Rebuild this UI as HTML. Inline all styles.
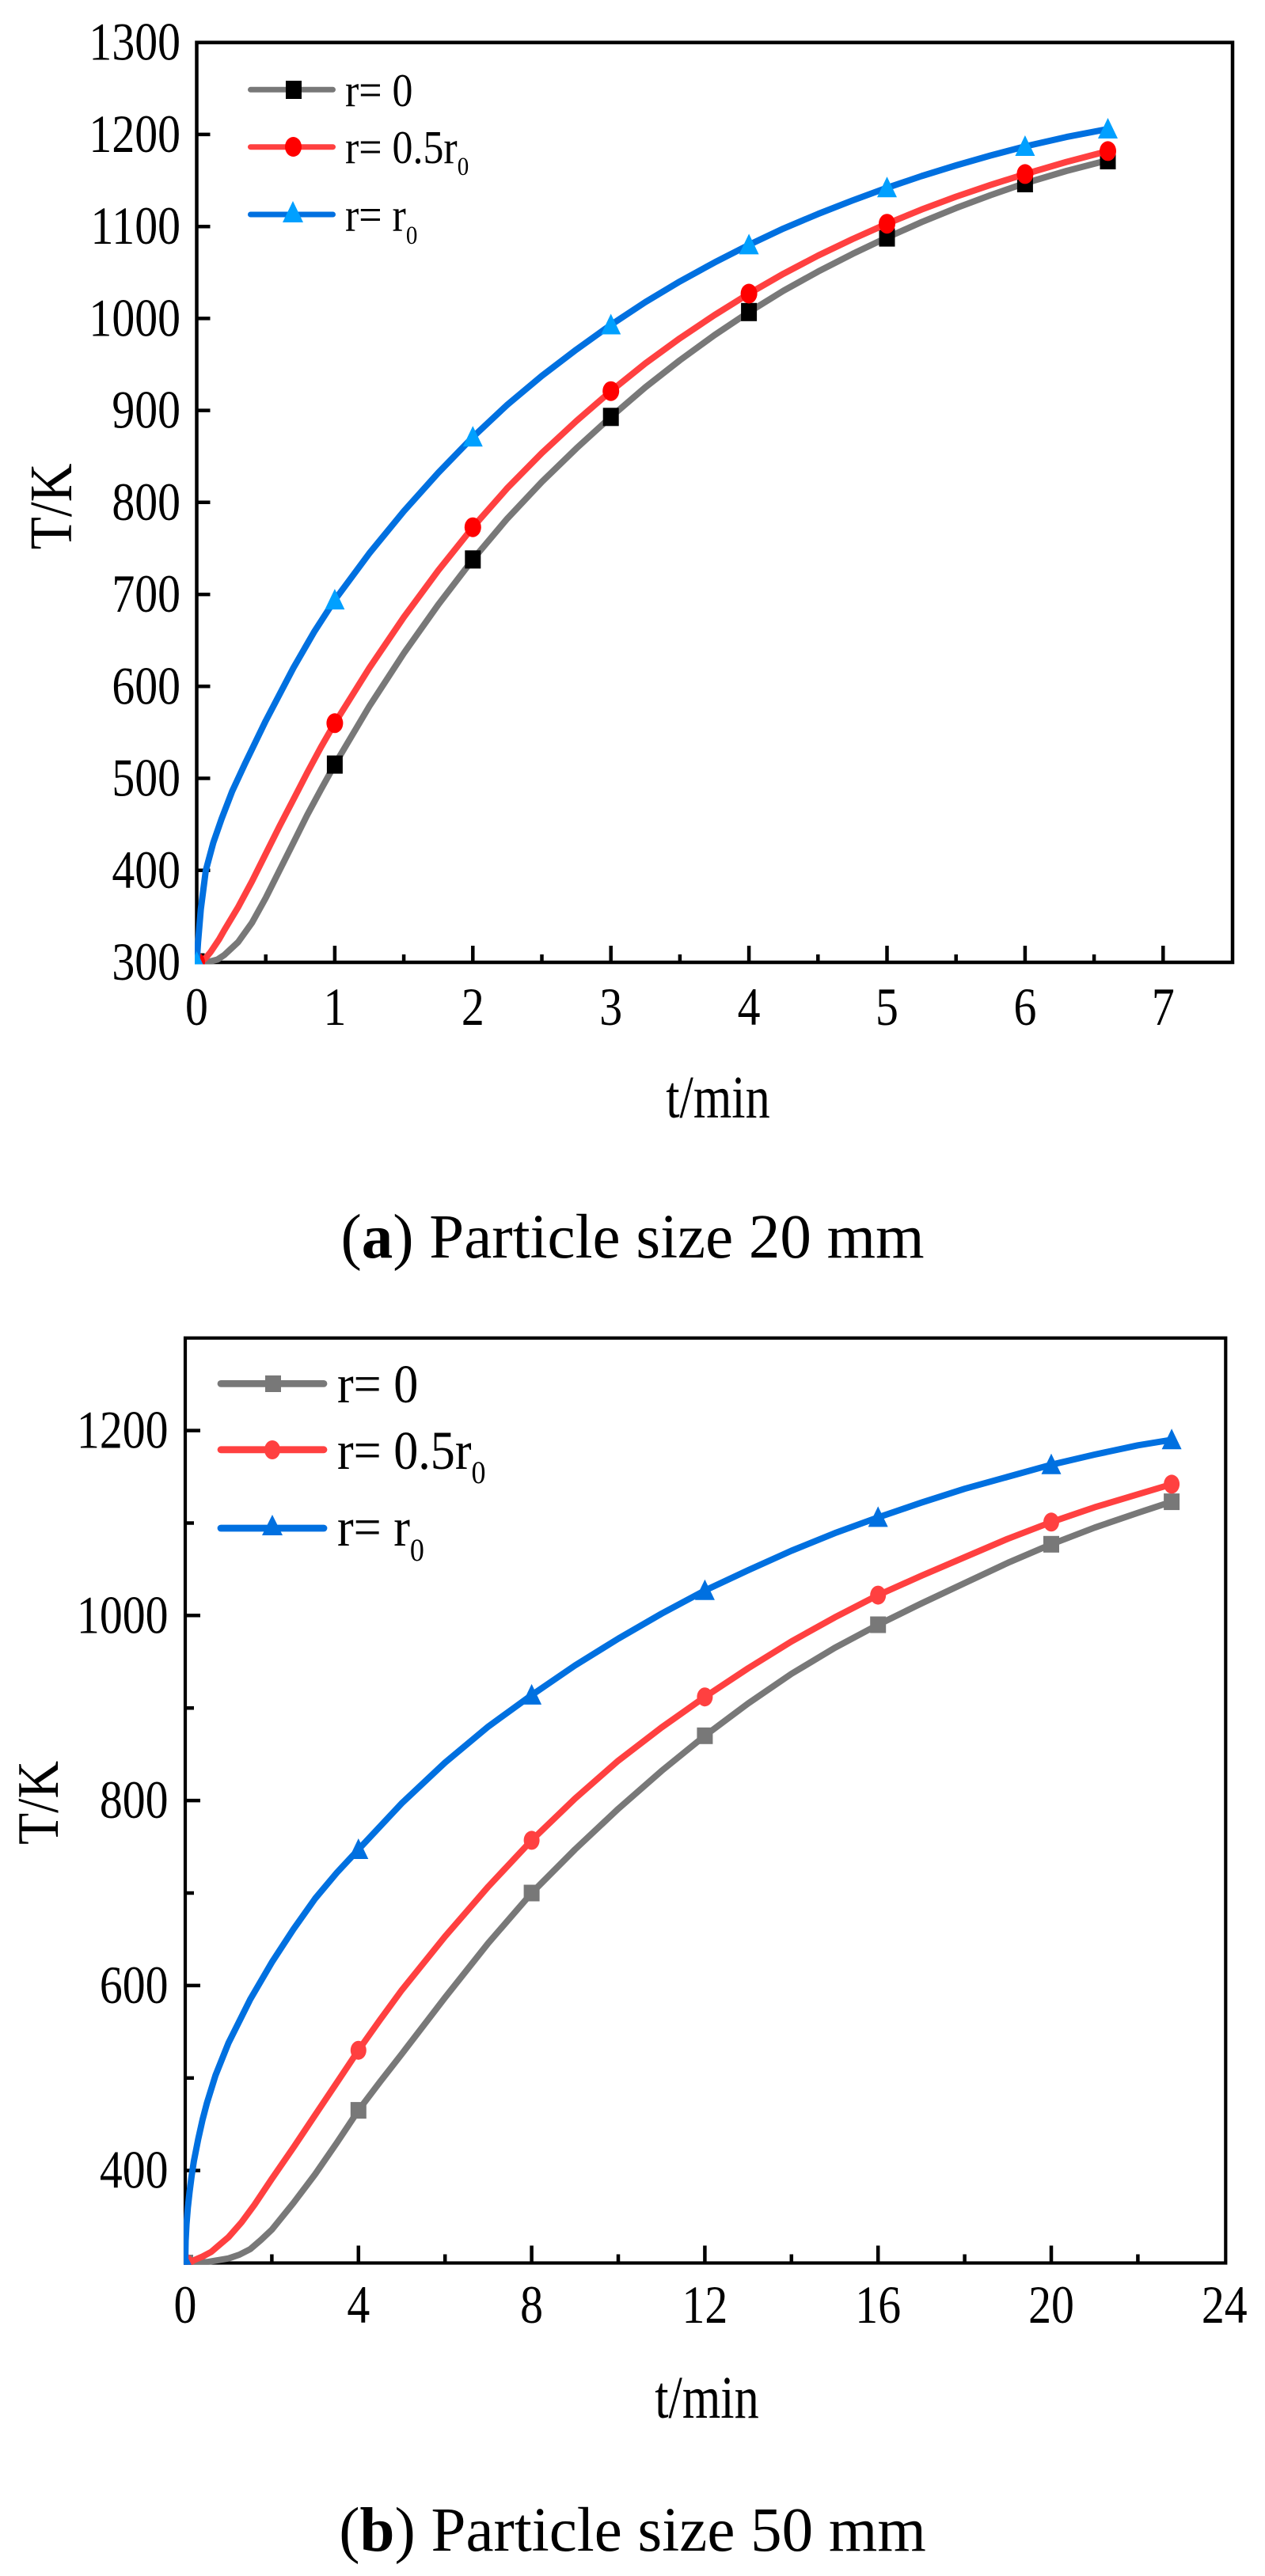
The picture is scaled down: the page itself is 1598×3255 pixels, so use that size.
<!DOCTYPE html>
<html><head><meta charset="utf-8"><style>html,body{margin:0;padding:0;background:#fff;}svg{display:block}</style></head>
<body>
<svg width="1598" height="3255" viewBox="0 0 1598 3255" xmlns="http://www.w3.org/2000/svg" font-family="'Liberation Serif', 'Times New Roman', serif">
<defs>
<clipPath id="ca"><rect x="246" y="51.5" width="1313" height="1167"/></clipPath>
<clipPath id="cb"><rect x="232" y="1688.7" width="1318" height="1173"/></clipPath>
</defs>
<rect width="1598" height="3255" fill="#fff"/>

<!-- ================= PANEL A ================= -->
<rect x="248.5" y="53.7" width="1308.5" height="1162.3" fill="none" stroke="#000" stroke-width="4.5"/>
<path d="M248.5,169.9h17M248.5,286.2h17M248.5,402.4h17M248.5,518.6h17M248.5,634.8h17M248.5,751.1h17M248.5,867.3h17M248.5,983.5h17M248.5,1099.8h17
M422.9,1216v-21M597.3,1216v-21M771.7,1216v-21M946.1,1216v-21M1120.5,1216v-21M1294.9,1216v-21M1469.3,1216v-21
M335.7,1216v-10M510.1,1216v-10M684.5,1216v-10M858.9,1216v-10M1033.3,1216v-10M1207.7,1216v-10M1382.1,1216v-10" stroke="#000" stroke-width="4.5" fill="none"/>

<g font-size="68" text-anchor="end" fill="#000">
<text transform="translate(228,75.7) scale(0.85,1)">1300</text>
<text transform="translate(228,191.9) scale(0.85,1)">1200</text>
<text transform="translate(228,308.2) scale(0.85,1)">1100</text>
<text transform="translate(228,424.4) scale(0.85,1)">1000</text>
<text transform="translate(228,540.6) scale(0.85,1)">900</text>
<text transform="translate(228,656.8) scale(0.85,1)">800</text>
<text transform="translate(228,773.1) scale(0.85,1)">700</text>
<text transform="translate(228,889.3) scale(0.85,1)">600</text>
<text transform="translate(228,1005.5) scale(0.85,1)">500</text>
<text transform="translate(228,1121.8) scale(0.85,1)">400</text>
<text transform="translate(228,1238) scale(0.85,1)">300</text>
</g>
<g font-size="68" text-anchor="middle" fill="#000">
<text transform="translate(248.5,1295) scale(0.85,1)">0</text>
<text transform="translate(422.9,1295) scale(0.85,1)">1</text>
<text transform="translate(597.3,1295) scale(0.85,1)">2</text>
<text transform="translate(771.7,1295) scale(0.85,1)">3</text>
<text transform="translate(946.1,1295) scale(0.85,1)">4</text>
<text transform="translate(1120.5,1295) scale(0.85,1)">5</text>
<text transform="translate(1294.9,1295) scale(0.85,1)">6</text>
<text transform="translate(1469.3,1295) scale(0.85,1)">7</text>
</g>
<text transform="translate(907,1412) scale(0.82,1)" font-size="76" text-anchor="middle">t/min</text>
<text transform="translate(90,640) rotate(-90) scale(0.89,1)" font-size="76" text-anchor="middle">T/K</text>

<g clip-path="url(#ca)">
<polyline fill="none" stroke="#787878" stroke-width="8" stroke-linejoin="round" stroke-linecap="round" points="248.5,1216 257.2,1216 265.9,1214.8 274.7,1212.5 283.4,1206.7 300.8,1190.4 318.3,1166.0 335.7,1134.6 353.1,1099.8 370.6,1064.9 388.0,1030.0 405.5,997.5 422.9,966.1 466.5,892.5 510.1,825.5 553.7,763.9 597.3,706.9 640.9,655.2 684.5,608.9 728.1,566.6 771.7,526.8 815.3,489.3 858.9,455.2 902.5,423.5 946.1,394.3 989.7,367.4 1033.3,343.2 1076.9,320.9 1120.5,300.1 1164.1,280.7 1207.7,262.9 1251.3,246.6 1294.9,231.5 1347.2,216.0 1399.5,202.5"/>
<g fill="#000">
<rect x="238.5" y="1204.5" width="20" height="23"/>
<rect x="412.9" y="954.6" width="20" height="23"/>
<rect x="587.3" y="695.4" width="20" height="23"/>
<rect x="761.7" y="515.3" width="20" height="23"/>
<rect x="936.1" y="382.8" width="20" height="23"/>
<rect x="1110.5" y="288.6" width="20" height="23"/>
<rect x="1284.9" y="220" width="20" height="23"/>
<rect x="1389.5" y="191" width="20" height="23"/>
</g>
<polyline fill="none" stroke="#FF4040" stroke-width="8" stroke-linejoin="round" stroke-linecap="round" points="248.5,1216 253.7,1216 260.0,1210.2 265.9,1203.2 276.8,1186.9 283.4,1175.3 300.8,1146.3 318.3,1113.7 335.7,1078.8 353.1,1044.0 370.6,1010.3 388.0,976.6 405.5,944.0 422.9,913.8 466.5,844.1 510.1,779.9 553.7,720.7 597.3,666.2 640.9,616.7 684.5,572.4 728.1,532.0 771.7,494.2 815.3,459.1 858.9,427.4 902.5,398.2 946.1,371.0 989.7,345.9 1033.3,323.0 1076.9,302.1 1120.5,282.7 1164.1,264.8 1207.7,248.5 1251.3,233.7 1294.9,219.9 1347.2,204.6 1399.5,190.9"/>
<g fill="#FF0000">
<ellipse cx="248.5" cy="1216" rx="10.5" ry="12.5"/>
<ellipse cx="422.9" cy="913.8" rx="10.5" ry="12.5"/>
<ellipse cx="597.3" cy="666.2" rx="10.5" ry="12.5"/>
<ellipse cx="771.7" cy="494.2" rx="10.5" ry="12.5"/>
<ellipse cx="946.1" cy="371.0" rx="10.5" ry="12.5"/>
<ellipse cx="1120.5" cy="282.7" rx="10.5" ry="12.5"/>
<ellipse cx="1294.9" cy="219.9" rx="10.5" ry="12.5"/>
<ellipse cx="1399.5" cy="190.9" rx="10.5" ry="12.5"/>
</g>
<polyline fill="none" stroke="#0070E0" stroke-width="8" stroke-linejoin="round" stroke-linecap="round" points="248.5,1216 250.2,1190.4 253.7,1148.6 260.0,1099.8 269.4,1064.9 279.9,1034.7 293.3,999.8 309.5,964.9 335.7,910.8 370.6,844.0 396.7,798.7 422.9,758.1 466.5,699.2 510.1,646.0 553.7,597.3 597.3,552.3 640.9,511.4 684.5,474.9 728.1,441.7 771.7,410.5 815.3,381.7 858.9,355.6 902.5,331.7 946.1,309.4 989.7,288.8 1033.3,270.4 1076.9,253.3 1120.5,237.3 1164.1,222.5 1207.7,209.0 1251.3,196.5 1294.9,185.0 1347.2,173.1 1399.5,163.0"/>
<g fill="#00A0FF">
<polygon points="248.5,1202 236,1228 261,1228"/>
<polygon points="422.9,744.1 410.4,770.1 435.4,770.1"/>
<polygon points="597.3,538.3 584.8,564.3 609.8,564.3"/>
<polygon points="771.7,396.5 759.2,422.5 784.2,422.5"/>
<polygon points="946.1,295.4 933.6,321.4 958.6,321.4"/>
<polygon points="1120.5,223.3 1108,249.3 1133,249.3"/>
<polygon points="1294.9,171 1282.4,197 1307.4,197"/>
<polygon points="1399.5,149 1387,175 1412,175"/>
</g>
</g>

<!-- legend A -->
<g stroke-width="7" stroke-linecap="round">
<path d="M316.5,113.3H420.5" stroke="#787878"/>
<path d="M316.5,185.7H420.5" stroke="#FF4040"/>
<path d="M316.5,271H420.5" stroke="#0070E0"/>
</g>
<rect x="361" y="102" width="20" height="23" fill="#000"/>
<ellipse cx="370.5" cy="185.5" rx="10.5" ry="12.5" fill="#FF0000"/>
<polygon points="370,254 357,281 383,281" fill="#00A0FF"/>
<g font-size="59" fill="#000">
<text transform="translate(436,134) scale(0.88,1)">r= 0</text>
<text transform="translate(436,206) scale(0.88,1)">r= 0.5r<tspan font-size="33" dy="15">0</tspan></text>
<text transform="translate(436,291.7) scale(0.88,1)">r= r<tspan font-size="33" dy="16.5">0</tspan></text>
</g>

<text x="799" y="1589" font-size="79" text-anchor="middle">(<tspan font-weight="bold">a</tspan>) Particle size 20 mm</text>

<!-- ================= PANEL B ================= -->
<rect x="234" y="1690.7" width="1314.3" height="1168.8" fill="none" stroke="#000" stroke-width="4.2"/>
<path d="M234,2742.6h19M234,2508.9h19M234,2275.1h19M234,2041.3h19M234,1807.6h19
M234,2625.7h11M234,2392.0h11M234,2158.2h11M234,1924.5h11
M452.8,2859.5v-22M671.6,2859.5v-22M890.4,2859.5v-22M1109.2,2859.5v-22M1328.0,2859.5v-22
M343.4,2859.5v-11M562.2,2859.5v-11M781.0,2859.5v-11M999.8,2859.5v-11M1218.6,2859.5v-11M1437.4,2859.5v-11" stroke="#000" stroke-width="4.5" fill="none"/>

<g font-size="68" text-anchor="end" fill="#000">
<text transform="translate(212.5,1829.6) scale(0.85,1)">1200</text>
<text transform="translate(212.5,2063.3) scale(0.85,1)">1000</text>
<text transform="translate(212.5,2297.1) scale(0.85,1)">800</text>
<text transform="translate(212.5,2530.9) scale(0.85,1)">600</text>
<text transform="translate(212.5,2764.6) scale(0.85,1)">400</text>
</g>
<g font-size="68" text-anchor="middle" fill="#000">
<text transform="translate(234,2935) scale(0.85,1)">0</text>
<text transform="translate(452.8,2935) scale(0.85,1)">4</text>
<text transform="translate(671.6,2935) scale(0.85,1)">8</text>
<text transform="translate(890.4,2935) scale(0.85,1)">12</text>
<text transform="translate(1109.2,2935) scale(0.85,1)">16</text>
<text transform="translate(1328.0,2935) scale(0.85,1)">20</text>
<text transform="translate(1546.8,2935) scale(0.85,1)">24</text>
</g>
<text transform="translate(893,3055) scale(0.82,1)" font-size="76" text-anchor="middle">t/min</text>
<text transform="translate(73,2278) rotate(-90) scale(0.89,1)" font-size="74" text-anchor="middle">T/K</text>

<g clip-path="url(#cb)">
<polyline fill="none" stroke="#787878" stroke-width="8" stroke-linejoin="round" stroke-linecap="round" points="234,2859.5 261.4,2858.3 288.7,2853.7 302.4,2849.0 316.1,2842.0 329.7,2830.3 343.4,2817.4 370.8,2783.5 398.1,2747.3 425.5,2707.6 452.8,2666.6 480.2,2630.4 507.5,2595.4 562.2,2524.1 616.9,2455.1 671.6,2392.0 726.3,2337.0 781.0,2285.6 835.7,2237.7 890.4,2193.3 945.1,2152.4 999.8,2115.0 1054.5,2082.2 1109.2,2053.0 1163.9,2026.1 1218.6,2000.4 1273.3,1974.7 1328.0,1951.3 1382.7,1930.3 1437.4,1911.6 1480.1,1897.6"/>
<g fill="#787878">
<rect x="224" y="2849" width="20" height="21"/>
<rect x="442.8" y="2656.1" width="20" height="21"/>
<rect x="661.6" y="2381.5" width="20" height="21"/>
<rect x="880.4" y="2182.8" width="20" height="21"/>
<rect x="1099.2" y="2042.5" width="20" height="21"/>
<rect x="1318" y="1940.8" width="20" height="21"/>
<rect x="1470.1" y="1887.1" width="20" height="21"/>
</g>
<polyline fill="none" stroke="#FF4040" stroke-width="8" stroke-linejoin="round" stroke-linecap="round" points="234,2859.5 239.5,2859.5 244.9,2856.0 255.9,2851.3 266.8,2845.5 277.8,2836.1 288.7,2826.8 305.1,2808.1 321.5,2785.9 343.4,2753.1 370.8,2713.4 398.1,2672.5 425.5,2631.6 452.8,2590.7 480.2,2552.1 507.5,2514.7 562.2,2446.9 616.9,2383.8 671.6,2325.4 726.3,2272.8 781.0,2224.8 835.7,2182.8 890.4,2144.2 945.1,2108.0 999.8,2074.1 1054.5,2043.7 1109.2,2015.6 1163.9,1991.1 1218.6,1967.7 1273.3,1944.3 1328.0,1923.3 1382.7,1904.6 1437.4,1888.2 1480.1,1875.4"/>
<g fill="#FF4040">
<ellipse cx="234" cy="2859.5" rx="10" ry="12"/>
<ellipse cx="452.8" cy="2590.7" rx="10" ry="12"/>
<ellipse cx="671.6" cy="2325.4" rx="10" ry="12"/>
<ellipse cx="890.4" cy="2144.2" rx="10" ry="12"/>
<ellipse cx="1109.2" cy="2015.6" rx="10" ry="12"/>
<ellipse cx="1328.0" cy="1923.3" rx="10" ry="12"/>
<ellipse cx="1480.1" cy="1875.4" rx="10" ry="12"/>
</g>
<polyline fill="none" stroke="#0070E0" stroke-width="8" stroke-linejoin="round" stroke-linecap="round" points="234,2859.5 234.5,2831.4 235.6,2810.4 237.3,2789.4 239.5,2769.5 242.2,2748.5 244.9,2730.9 250.4,2702.9 255.9,2678.3 261.4,2657.3 272.3,2622.2 288.7,2581.3 316.1,2526.4 343.4,2479.6 370.8,2437.6 398.1,2399.0 425.5,2366.3 452.8,2337.0 507.5,2278.6 562.2,2227.2 616.9,2181.6 671.6,2141.9 726.3,2104.5 781.0,2070.6 835.7,2039.0 890.4,2009.8 945.1,1984.1 999.8,1959.5 1054.5,1937.3 1109.2,1917.4 1163.9,1898.7 1218.6,1881.2 1273.3,1866.0 1328.0,1850.8 1382.7,1838.0 1437.4,1826.3 1480.1,1819.3"/>
<g fill="#0070E0">
<polygon points="234,2845.5 221.5,2871.5 246.5,2871.5"/>
<polygon points="452.8,2323 440.3,2349 465.3,2349"/>
<polygon points="671.6,2127.9 659.1,2153.9 684.1,2153.9"/>
<polygon points="890.4,1995.8 877.9,2021.8 902.9,2021.8"/>
<polygon points="1109.2,1903.4 1096.7,1929.4 1121.7,1929.4"/>
<polygon points="1328,1836.8 1315.5,1862.8 1340.5,1862.8"/>
<polygon points="1480.1,1805.3 1467.6,1831.3 1492.6,1831.3"/>
</g>
</g>

<!-- legend B -->
<g stroke-width="8.8" stroke-linecap="round">
<path d="M279,1748.4H409" stroke="#787878"/>
<path d="M279,1831.8H409" stroke="#FF4040"/>
<path d="M279,1931H409" stroke="#0070E0"/>
</g>
<rect x="335" y="1738" width="20" height="21" fill="#787878"/>
<ellipse cx="344" cy="1832" rx="10" ry="12" fill="#FF4040"/>
<polygon points="344,1914 331,1940 357,1940" fill="#0070E0"/>
<g font-size="69" fill="#000">
<text transform="translate(426,1772) scale(0.9,1)">r= 0</text>
<text transform="translate(426,1856) scale(0.9,1)">r= 0.5r<tspan font-size="40" dy="18">0</tspan></text>
<text transform="translate(426,1952.8) scale(0.9,1)">r= r<tspan font-size="40" dy="19">0</tspan></text>
</g>

<text x="799" y="3223" font-size="79" text-anchor="middle">(<tspan font-weight="bold">b</tspan>) Particle size 50 mm</text>
</svg>
</body></html>
